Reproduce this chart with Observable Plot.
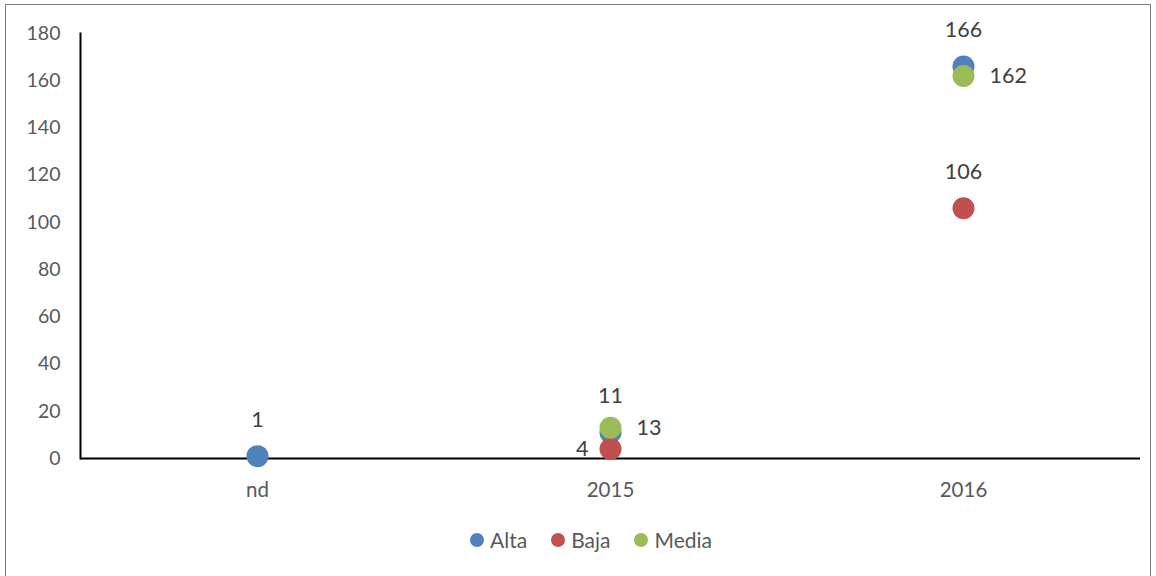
<!DOCTYPE html>
<html><head><meta charset="utf-8">
<script src="https://cdn.jsdelivr.net/npm/d3@7"></script>
<script src="https://cdn.jsdelivr.net/npm/@observablehq/plot@0.6"></script>
<style>
html,body{margin:0;padding:0;background:#fff;width:1156px;height:576px;overflow:hidden;}
#frame{position:absolute;left:5px;top:4px;width:1146px;height:580px;border:1px solid #7f7f7f;box-sizing:border-box;}
#chart{position:absolute;left:0;top:0;}
#legend{position:absolute;top:527px;left:10px;width:1162px;display:flex;justify-content:center;gap:24px;font:21px Lato,"Open Sans",sans-serif;color:#595959;}
#legend span.item{display:flex;align-items:center;gap:6px;}
#legend span.sw{display:inline-block;width:14px;height:14px;border-radius:50%;}
</style></head>
<body>
<div id="frame"></div>
<div id="chart"></div>
<div id="legend"></div>
<script>
const categories = ["nd", "2015", "2016"];
const series = ["Alta", "Baja", "Media"];
const alta = [1, 11, 166];
const baja = [null, 4, 106];
const media = [null, 13, 162];
const colors = ["#4F81BD", "#C0504D", "#9BBB59"];
const yTicks = [0, 20, 40, 60, 80, 100, 120, 140, 160, 180];

const values = [alta, baja, media];
const data = [];
series.forEach((s, si) => {
  categories.forEach((c, ci) => {
    const v = values[si][ci];
    if (v != null) data.push({series: s, cat: c, value: v});
  });
});

// label placement per series (Excel-like data labels)
const above = data.filter(d => d.series === "Alta" || (d.series === "Baja" && d.cat !== "2015"));
const left = data.filter(d => d.series === "Baja" && d.cat === "2015");
const right = data.filter(d => d.series === "Media");

const font = 'Lato, "Open Sans", sans-serif';
const chart = Plot.plot({
  width: 1156,
  height: 510,
  marginLeft: 80,
  marginRight: 16,
  marginTop: 33,
  marginBottom: 52,
  style: {fontFamily: font, fontSize: "19px", color: "#595959", background: "transparent"},
  x: {type: "point", domain: categories, padding: 0.5, label: null},
  y: {domain: [0, 180], label: null},
  color: {domain: series, range: colors},
  marks: [
    Plot.axisY({ticks: yTicks, tickSize: 0, tickPadding: 20, label: null, fill: "#595959", fontSize: 19.5}),
    Plot.axisX({tickSize: 0, tickPadding: 24, label: null, fill: "#595959", fontSize: 20.5}),
    Plot.frame({anchor: "left", stroke: "black", strokeWidth: 2}),
    Plot.ruleY([0], {stroke: "black", strokeWidth: 2}),
    Plot.dot(data, {x: "cat", y: "value", fill: "series", r: 11}),
    Plot.text(above, {x: "cat", y: "value", text: d => String(d.value), dy: -36, fill: "#404040", fontSize: 21.5}),
    Plot.text(left, {x: "cat", y: "value", text: d => String(d.value), dx: -22, textAnchor: "end", fill: "#404040", fontSize: 21.5}),
    Plot.text(right, {x: "cat", y: "value", text: d => String(d.value), dx: 26, textAnchor: "start", fill: "#404040", fontSize: 21.5})
  ]
});
document.getElementById("chart").appendChild(chart);

const legend = document.getElementById("legend");
series.forEach((s, i) => {
  const item = document.createElement("span");
  item.className = "item";
  const sw = document.createElement("span");
  sw.className = "sw";
  sw.style.background = colors[i];
  item.appendChild(sw);
  item.appendChild(document.createTextNode(s));
  legend.appendChild(item);
});
</script>
</body></html>
